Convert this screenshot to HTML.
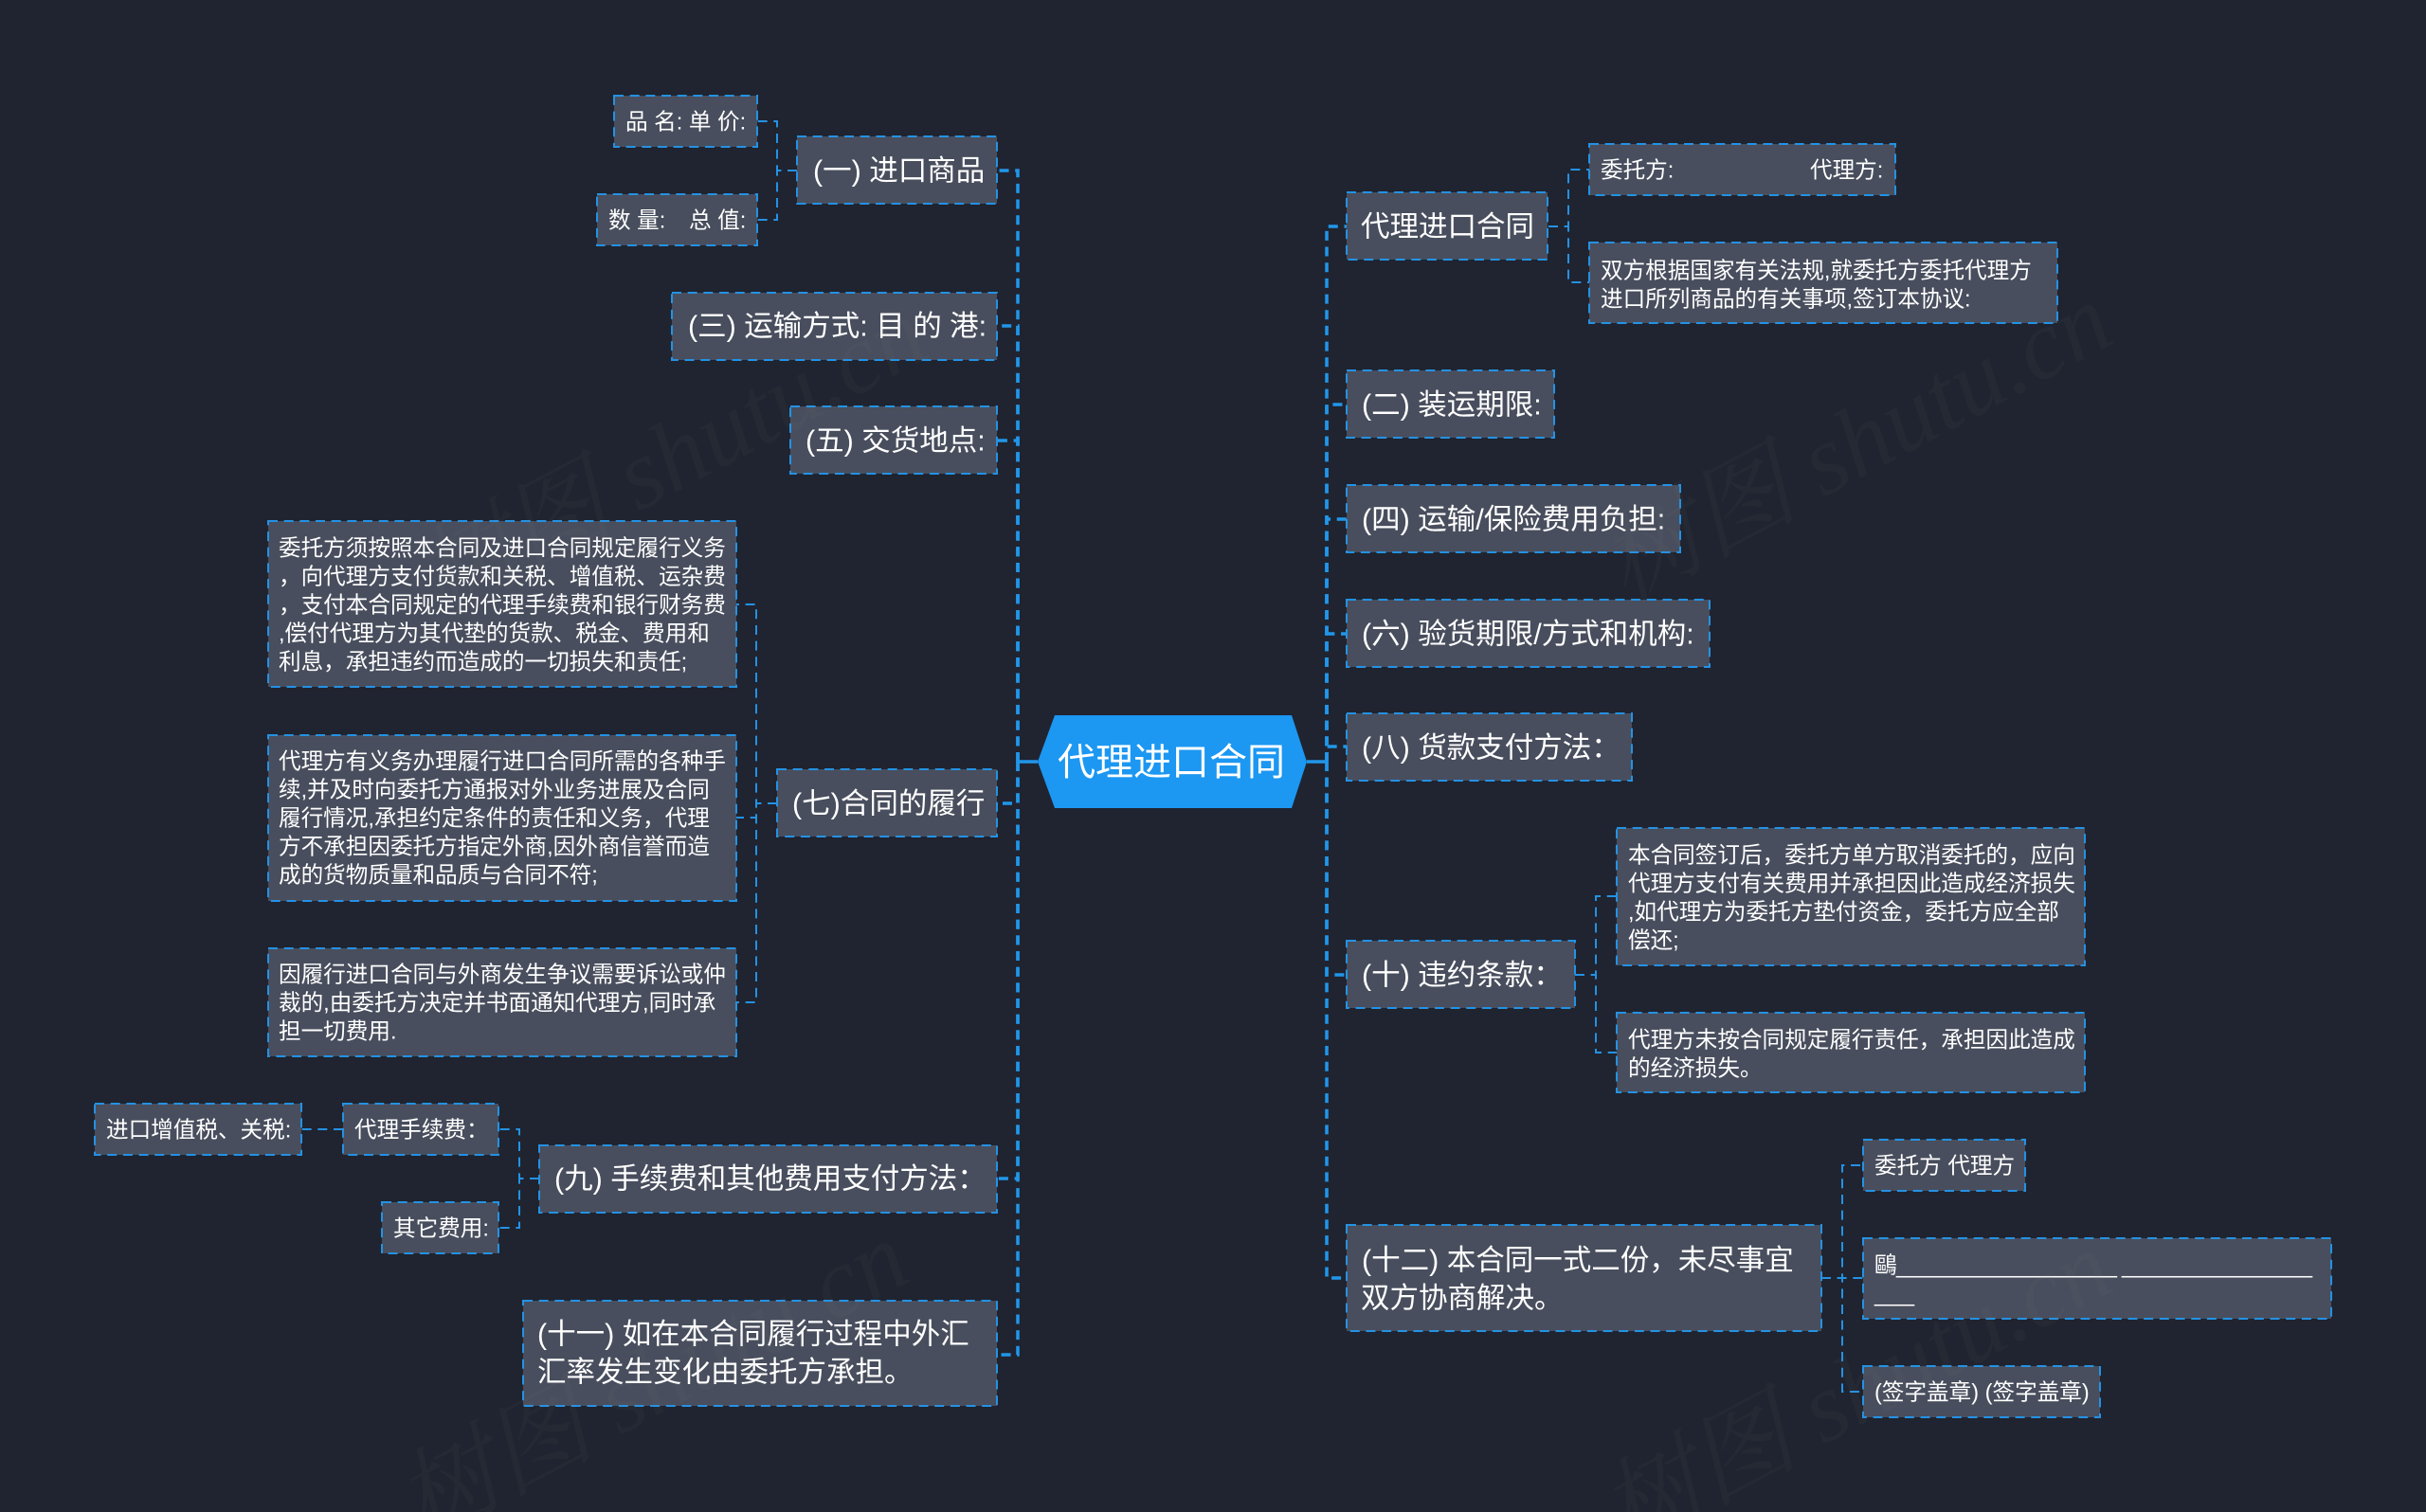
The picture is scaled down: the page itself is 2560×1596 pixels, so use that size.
<!DOCTYPE html>
<html lang="zh-CN">
<head>
<meta charset="utf-8">
<title>代理进口合同</title>
<style>
html,body{margin:0;padding:0;width:2560px;height:1596px;overflow:hidden;background:#1f2430}
svg{display:block;position:absolute;left:0;top:0}
text{font-family:"Liberation Sans","Noto Sans CJK SC",sans-serif;fill:#fff;white-space:pre}
.b rect{fill:#484e5d;stroke:#2492e4;stroke-width:2;stroke-dasharray:10 6.67}
.l1{font-size:30.5px}
.l2{font-size:23.6px}
.c0{fill:none;stroke:#2196ea;stroke-width:3.5;stroke-dasharray:10 6.67}
.c1{fill:none;stroke:#2492e4;stroke-width:2;stroke-dasharray:10 6.67}
.wm text{font-family:"Liberation Serif","Noto Serif CJK SC",serif;font-style:italic;font-size:105px;fill:#909090;fill-opacity:.05}
</style>
</head>
<body>
<svg width="2560" height="1596" viewBox="0 0 2560 1596" xmlns="http://www.w3.org/2000/svg">
<rect width="2560" height="1596" fill="#1f2430"/>

<!-- main connectors -->
<g>
<path class="c0" d="M1074,804V180H1052"/>
<path class="c0" d="M1074,804V344H1052"/>
<path class="c0" d="M1074,804V465H1052"/>
<path class="c0" d="M1074,804V848H1052"/>
<path class="c0" d="M1074,804V1244H1052"/>
<path class="c0" d="M1074,804V1430H1052"/>
<path class="c0" d="M1400,804V239H1421"/>
<path class="c0" d="M1400,804V427H1421"/>
<path class="c0" d="M1400,804V548H1421"/>
<path class="c0" d="M1400,804V669H1421"/>
<path class="c0" d="M1400,804V788H1421"/>
<path class="c0" d="M1400,804V1029H1421"/>
<path class="c0" d="M1400,804V1349H1421"/>
<path d="M1074,804H1095M1379,804H1400" stroke="#2196ea" stroke-width="3.5" fill="none"/>
</g>

<!-- secondary connectors -->
<g>
<path class="c1" d="M841,180H820V128H799"/>
<path class="c1" d="M841,180H820V232H799"/>
<path class="c1" d="M820,848H798V638H777"/>
<path class="c1" d="M820,848H798V863H777"/>
<path class="c1" d="M820,848H798V1058H777"/>
<path class="c1" d="M569,1244H548V1192H526"/>
<path class="c1" d="M569,1244H548V1296H526"/>
<path class="c1" d="M362,1192H318"/>
<path class="c1" d="M1634,239H1655V179H1677"/>
<path class="c1" d="M1634,239H1655V298H1677"/>
<path class="c1" d="M1662,1029H1684V946H1706"/>
<path class="c1" d="M1662,1029H1684V1111H1706"/>
<path class="c1" d="M1922,1349H1944V1230H1966"/>
<path class="c1" d="M1922,1349H1966"/>
<path class="c1" d="M1922,1349H1944V1469H1966"/>
</g>

<!-- central node -->
<polygon points="1113,755 1363,755 1379,804 1363,853 1113,853 1095,804" fill="#1c97f2"/>
<text x="1116" y="818" font-size="40" style="font-size:40px">代理进口合同</text>

<!-- boxes -->
<g class="b">
<rect x="648" y="101" width="151" height="54"/>
<rect x="630" y="205" width="169" height="54"/>
<rect x="841" y="144" width="211" height="71"/>
<rect x="709" y="309" width="343" height="71"/>
<rect x="834" y="429" width="218" height="71"/>
<rect x="820" y="812" width="232" height="71"/>
<rect x="283" y="550" width="494" height="175"/>
<rect x="283" y="776" width="494" height="175"/>
<rect x="283" y="1001" width="494" height="114"/>
<rect x="569" y="1209" width="483" height="71"/>
<rect x="552" y="1373" width="500" height="111"/>
<rect x="100" y="1165" width="218" height="54"/>
<rect x="362" y="1165" width="164" height="54"/>
<rect x="403" y="1269" width="123" height="54"/>
<rect x="1421" y="203" width="212" height="71"/>
<rect x="1677" y="152" width="323" height="54"/>
<rect x="1677" y="256" width="494" height="85"/>
<rect x="1421" y="391" width="219" height="71"/>
<rect x="1421" y="512" width="352" height="71"/>
<rect x="1421" y="633" width="383" height="71"/>
<rect x="1421" y="753" width="301" height="71"/>
<rect x="1421" y="993" width="241" height="71"/>
<rect x="1706" y="874" width="494" height="145"/>
<rect x="1706" y="1069" width="494" height="84"/>
<rect x="1421" y="1293" width="501" height="112"/>
<rect x="1966" y="1203" width="171" height="54"/>
<rect x="1966" y="1307" width="494" height="85"/>
<rect x="1966" y="1442" width="250" height="54"/>
</g>

<!-- level 2 text -->
<g class="l2">
<text x="660" y="136.500">品 名: 单 价:</text>
<text x="642" y="240.500">数 量:</text>
<text x="727" y="240.500">总 值:</text>
<text x="294" y="586.500">委托方须按照本合同及进口合同规定履行义务</text>
<text x="294" y="616.500">，向代理方支付货款和关税、增值税、运杂费</text>
<text x="294" y="646.500">，支付本合同规定的代理手续费和银行财务费</text>
<text x="294" y="676.500">,偿付代理方为其代垫的货款、税金、费用和</text>
<text x="294" y="706.500">利息，承担违约而造成的一切损失和责任;</text>
<text x="294" y="811.500">代理方有义务办理履行进口合同所需的各种手</text>
<text x="294" y="841.500">续,并及时向委托方通报对外业务进展及合同</text>
<text x="294" y="871.500">履行情况,承担约定条件的责任和义务，代理</text>
<text x="294" y="901.500">方不承担因委托方指定外商,因外商信誉而造</text>
<text x="294" y="931.500">成的货物质量和品质与合同不符;</text>
<text x="294" y="1036.500">因履行进口合同与外商发生争议需要诉讼或仲</text>
<text x="294" y="1066.500">裁的,由委托方决定并书面通知代理方,同时承</text>
<text x="294" y="1096.500">担一切费用.</text>
<text x="112" y="1200.500">进口增值税、关税:</text>
<text x="374" y="1200.500">代理手续费：</text>
<text x="415" y="1304.500">其它费用:</text>
<text x="1689" y="187.500">委托方:</text>
<text x="1910" y="187.500">代理方:</text>
<text x="1689" y="293.500">双方根据国家有关法规,就委托方委托代理方</text>
<text x="1689" y="323.500">进口所列商品的有关事项,签订本协议:</text>
<text x="1718" y="910.500">本合同签订后，委托方单方取消委托的，应向</text>
<text x="1718" y="940.500">代理方支付有关费用并承担因此造成经济损失</text>
<text x="1718" y="970.500">,如代理方为委托方垫付资金，委托方应全部</text>
<text x="1718" y="1000.500">偿还;</text>
<text x="1718" y="1105.500">代理方未按合同规定履行责任，承担因此造成</text>
<text x="1718" y="1135.500">的经济损失。</text>
<text x="1978" y="1238.500">委托方 代理方</text>
<text x="1978" y="1343.500">鷗</text>
<text x="2001" y="1343.500" textLength="233" lengthAdjust="spacingAndGlyphs">__________________</text>
<text x="2239" y="1343.500" textLength="201" lengthAdjust="spacingAndGlyphs">_______________</text>
<text x="1978" y="1373.500" textLength="42" lengthAdjust="spacingAndGlyphs">___</text>
<text x="1978" y="1477.500">(签字盖章) (签字盖章)</text>
</g>

<!-- level 1 text -->
<g class="l1">
<text x="858" y="190.500">(一) 进口商品</text>
<text x="726" y="354.500">(三) 运输方式: 目 的 港:</text>
<text x="850" y="475.500">(五) 交货地点:</text>
<text x="836" y="858.500">(七)合同的履行</text>
<text x="585" y="1254.500">(九) 手续费和其他费用支付方法：</text>
<text x="567" y="1418.500">(十一) 如在本合同履行过程中外汇</text>
<text x="567" y="1458.500">汇率发生变化由委托方承担。</text>
<text x="1436" y="249.500">代理进口合同</text>
<text x="1437" y="437.500">(二) 装运期限:</text>
<text x="1437" y="558.500">(四) 运输/保险费用负担:</text>
<text x="1437" y="679.500">(六) 验货期限/方式和机构:</text>
<text x="1437" y="799.500">(八) 货款支付方法：</text>
<text x="1437" y="1039.500">(十) 违约条款：</text>
<text x="1437" y="1340.500">(十二) 本合同一式二份，未尽事宜</text>
<text x="1436" y="1380.500">双方协商解决。</text>
</g>

<!-- watermark -->
<g class="wm">
<text text-anchor="end" transform="translate(985,375) rotate(-28)">树图 shutu.cn</text>
<text text-anchor="end" transform="translate(2235,360) rotate(-28)">树图 shutu.cn</text>
<text text-anchor="end" transform="translate(965,1350) rotate(-28)">树图 shutu.cn</text>
<text text-anchor="end" transform="translate(2235,1360) rotate(-28)">树图 shutu.cn</text>
</g>
</svg>
</body>
</html>
